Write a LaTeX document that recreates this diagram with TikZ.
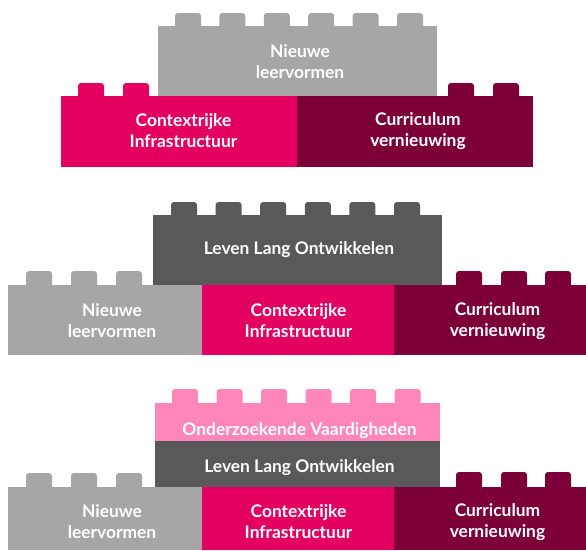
\documentclass[tikz,border=0pt]{standalone}
\usepackage{fontspec}
\setmainfont{Lato}
\definecolor{lgray}{RGB}{166,166,166}
\definecolor{dgray}{RGB}{89,89,89}
\definecolor{hotpink}{RGB}{227,0,96}
\definecolor{maroon}{RGB}{124,0,55}
\definecolor{softpink}{RGB}{255,134,184}
% #1 colour, #2 x1, #3 body top, #4 x2, #5 bottom, #6 stud x list, #7 stud top
\newcommand\legobrick[7]{%
  \fill[#1] (#2,#3) rectangle (#4,#5);
  \foreach \sx in {#6}{%
    \fill[#1] (\sx,#3+1) [rounded corners=3] -- (\sx,#7) -- (\sx+26,#7) [sharp corners] -- (\sx+26,#3+1) -- cycle;
  }%
}
\tikzset{
  lbl/.style={text=white,font=\bfseries\fontsize{17.4}{21}\selectfont,align=center,inner sep=0pt}
}
\begin{document}
\begin{tikzpicture}[x=1pt,y=-1pt]
\useasboundingbox (0,0) rectangle (586,550);
% ---- top group
\legobrick{lgray}{158}{26}{437}{96}{175,219.4,263.8,308.2,352.6,397}{13}
\legobrick{hotpink}{61}{96}{297}{167}{78,123}{83}
\legobrick{maroon}{297}{96}{533}{167}{448,493}{83}
\node[lbl] (a1) at (300,61.5) {Nieuwe\\leervormen};
\node[lbl] (a2) at (183.5,131) {Contextrijke\\Infrastructuur};
\node[lbl] (a3) at (418,131) {Curriculum\\vernieuwing};
% ---- middle group
\legobrick{dgray}{153}{215}{442}{285}{171,215.6,260.2,304.8,349.4,394}{202}
\legobrick{lgray}{8}{285}{202}{355}{26,71,116}{271}
\legobrick{hotpink}{202}{285}{394}{355}{}{271}
\legobrick{maroon}{394}{285}{586}{355}{456,501,545}{271}
\node[lbl] (b0) at (299,249.5) {Leven Lang Ontwikkelen};
\node[lbl] (b1) at (112,321) {Nieuwe\\leervormen};
\node[lbl] (b2) at (298.5,321) {Contextrijke\\Infrastructuur};
\node[lbl] (b3) at (497.5,321) {Curriculum\\vernieuwing};
% ---- bottom group
\legobrick{softpink}{155}{403}{440}{441}{172,216.5,261,305.5,350,394.5}{389}
\fill[dgray] (155,441) rectangle (440,487);
\legobrick{lgray}{8}{487}{202}{550}{26,71,116}{473}
\legobrick{hotpink}{202}{487}{394}{550}{}{473}
\legobrick{maroon}{394}{487}{586}{550}{456,501,545}{472}
\node[lbl] (c0) at (299.5,430.5) {Onderzoekende Vaardigheden};
\node[lbl] (c1) at (299.5,468) {Leven Lang Ontwikkelen};
\node[lbl] (c2) at (112,522) {Nieuwe\\leervormen};
\node[lbl] (c3) at (298.5,522) {Contextrijke\\Infrastructuur};
\node[lbl] (c4) at (497.5,522) {Curriculum\\vernieuwing};
\end{tikzpicture}
\end{document}
